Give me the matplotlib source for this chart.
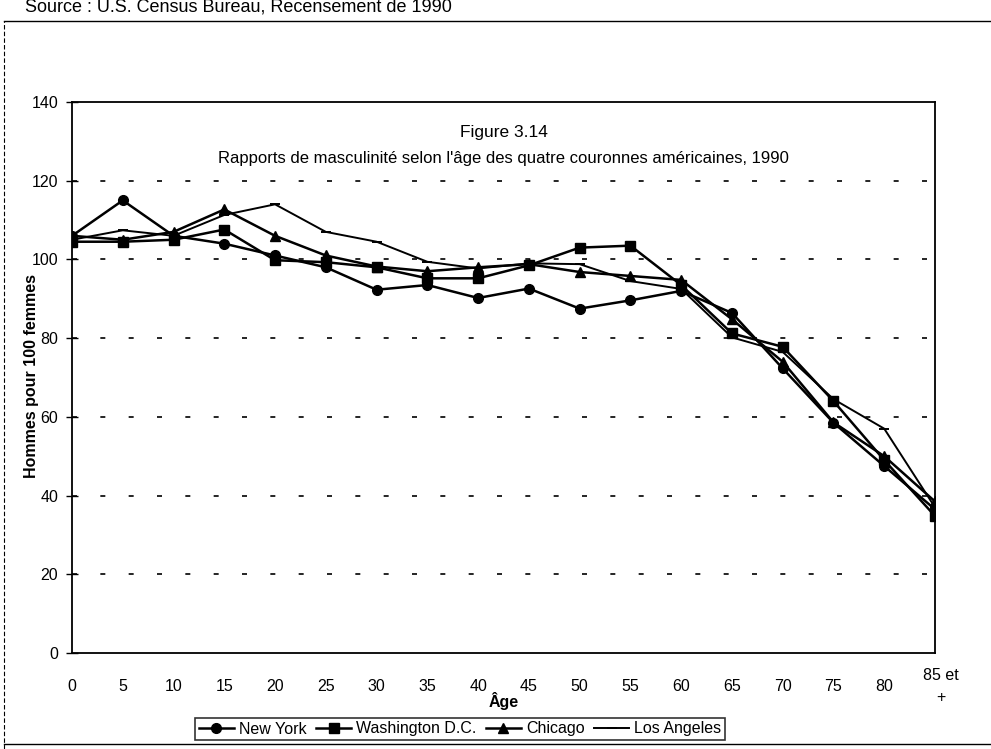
import numpy as np
import matplotlib.pyplot as plt
from matplotlib.lines import Line2D
from matplotlib.transforms import ScaledTranslation

plt.rcParams['font.family'] = ['Liberation Sans', 'DejaVu Sans']

# age groups (x categories)
ages = ['0', '5', '10', '15', '20', '25', '30', '35', '40', '45',
        '50', '55', '60', '65', '70', '75', '80', '85 et\n+']

# men per 100 women, by city
new_york = [106, 115, 106, 104, 101, 98, 92.3, 93.5, 90.2, 92.6,
            87.5, 89.6, 92, 86.4, 72.3, 58.5, 47.5, 36.5]
washington = [104.5, 104.5, 105, 107.6, 99.8, 99.3, 98, 95.2, 95.2, 98.5,
              103, 103.5, 93.5, 81.2, 77.8, 64, 49, 34.8]
chicago = [106, 105, 107, 112.7, 106, 101, 98.2, 97, 98, 98.8,
           96.8, 95.8, 94.8, 84.8, 74, 58.6, 50, 38.5]
los_angeles = [105, 107.4, 106, 111.3, 114, 107, 104.5, 99.4, 97.7, 99,
               98.8, 94.5, 92.5, 80.2, 76.5, 64.5, 57, 37]

x = np.arange(len(ages))

fig = plt.figure(figsize=(9.91, 7.49), dpi=100)
ax = fig.add_axes([72/991, 1 - 653/749, (935-72)/991, (653-102)/749])

ax.plot(x, new_york, color='black', lw=1.8, marker='o', ms=7, label='New York')
ax.plot(x, washington, color='black', lw=1.8, marker='s', ms=7, label='Washington D.C.')
ax.plot(x, chicago, color='black', lw=1.8, marker='^', ms=7.5, label='Chicago')
ax.plot(x, los_angeles, color='black', lw=1.4, marker='_', ms=7, mew=1.4, label='Los Angeles')

ax.set_xlim(0, len(ages) - 1)
ax.set_ylim(0, 140)
ax.set_yticks(range(0, 141, 20))
ax.set_xticks(x)
ax.set_xticklabels(ages, fontsize=11.5, va='center', linespacing=1.6)
ax.tick_params(axis='x', length=0, pad=24)
ax.tick_params(axis='y', direction='inout', length=8, width=1, labelsize=11.5, pad=6)

# nudge the two-line last label a little to the right
last = ax.get_xticklabels()[-1]
last.set_transform(last.get_transform() + ScaledTranslation(6/100, 0, fig.dpi_scale_trans))

for v in range(20, 140, 20):
    ax.axhline(v, color='black', lw=1.2, ls=(0, (3, 14)))

for s in ax.spines.values():
    s.set_linewidth(1.3)

ax.set_ylabel('Hommes pour 100 femmes', fontsize=11.5, fontweight='bold', va='center')
ax.yaxis.set_label_coords(-(72 - 32)/863, (653 - 376)/551)
ax.set_xlabel('Âge', fontsize=11.5, fontweight='bold', va='center')
ax.xaxis.set_label_coords(0.5, -(701 - 653)/551)

ax.text(0.5, 0.945, 'Figure 3.14', transform=ax.transAxes, ha='center', va='center',
        fontsize=12.5)
ax.text(0.5, 0.898, "Rapports de masculinité selon l'âge des quatre couronnes américaines, 1990",
        transform=ax.transAxes, ha='center', va='center', fontsize=12)

leg = fig.legend(loc='center', bbox_to_anchor=(460/991, 1 - 729/749), ncol=4,
                 fontsize=11.5, frameon=True, handlelength=2.2, handletextpad=0.3,
                 columnspacing=0.6, borderpad=0.25, fancybox=False, edgecolor='black')
leg.get_frame().set_linewidth(1.2)

fig.text(25/991, 1 - 7/749, 'Source : U.S. Census Bureau, Recensement de 1990',
         fontsize=13, ha='left', va='center')

# page frame lines
fig.add_artist(Line2D([4/991, 1], [1 - 21/749, 1 - 21/749], color='black', lw=1.0,
                      transform=fig.transFigure))
fig.add_artist(Line2D([4/991, 4/991], [0, 1 - 21/749], color='black', lw=0.8,
                      ls=(0, (4, 2)), transform=fig.transFigure))
fig.add_artist(Line2D([4/991, 1], [1 - 744/749, 1 - 744/749], color='black', lw=1.0,
                      transform=fig.transFigure))

fig.savefig('out.png', dpi=100)
